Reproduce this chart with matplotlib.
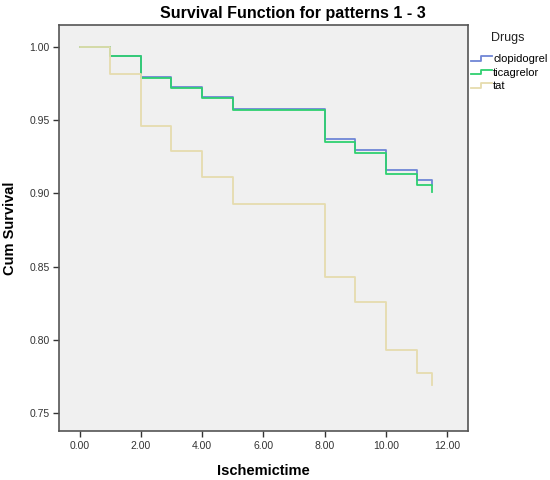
import numpy as np
import matplotlib
matplotlib.use("Agg")
from matplotlib import pyplot as plt
from matplotlib.lines import Line2D
from matplotlib.legend_handler import HandlerBase

plt.rcParams['font.family'] = ['Liberation Sans', 'DejaVu Sans']

# step times (Ischemictime) and cumulative survival per drug
times = [0, 1, 2, 3, 4, 5, 8, 9, 10, 11, 11.5]
clopidogrel = [1.000, 0.994, 0.980, 0.973, 0.966, 0.958, 0.9375, 0.930, 0.916, 0.909, 0.906]
ticagrelor = [1.000, 0.994, 0.979, 0.972, 0.965, 0.957, 0.935, 0.928, 0.913, 0.906, 0.901]
tat = [1.000, 0.982, 0.946, 0.929, 0.9115, 0.893, 0.843, 0.826, 0.793, 0.777, 0.769]

labels = ['clopidogrel', 'ticagrelor', 'tat']
colors = ['#6f86d6', '#2fd070', '#e6dcae']
series = [clopidogrel, ticagrelor, tat]

xticks = [0, 2, 4, 6, 8, 10, 12]
yticks = [0.75, 0.80, 0.85, 0.90, 0.95, 1.00]


class StepHandler(HandlerBase):
    # little "_|‾" glyph like SPSS uses in its legend
    def create_artists(self, legend, orig_handle, xdescent, ydescent,
                       width, height, fontsize, trans):
        x0 = -xdescent
        xm = x0 + width * 0.5
        x1 = x0 + width
        ylo = -ydescent + height * 0.15
        yhi = -ydescent + height * 0.75
        ln = Line2D([x0, xm, xm, x1], [ylo, ylo, yhi, yhi],
                    color=orig_handle.get_color(), lw=1.3, transform=trans)
        return [ln]


fig = plt.figure(figsize=(5.5, 4.8), dpi=100)
fig.patch.set_facecolor('white')
ax = fig.add_axes([0.1078, 0.1015, 0.7432, 0.8465])
ax.set_facecolor('#f0f0f0')

handles = []
for s, c, lab in zip(series, colors, labels):
    ln, = ax.step(times, s, where='post', color=c, lw=1.3, label=lab)
    handles.append(ln)

ax.set_xlim(-0.66, 12.68)
ax.set_ylim(0.7373, 1.0153)
ax.set_xticks(xticks)
ax.set_xticklabels(['%.2f' % v for v in xticks])
ax.set_yticks(yticks)
ax.set_yticklabels(['%.2f' % v for v in yticks])
ax.tick_params(axis='both', labelsize=7.5, length=4, width=1, color='#333333',
               labelcolor='#333333', direction='out', pad=3)
for sp in ax.spines.values():
    sp.set_color('#555555')
    sp.set_linewidth(1.2)

ax.set_xlabel('Ischemictime', fontsize=10.5, fontweight='bold', labelpad=9)
ax.set_ylabel('Cum Survival', fontsize=10.5, fontweight='bold', labelpad=9)
fig.text(0.533, 0.971, 'Survival Function for patterns 1 - 3', ha='center',
         va='center', fontsize=11.5, fontweight='bold')

# legend title sits apart from the entries, as in SPSS output
fig.text(0.924, 0.921, 'Drugs', ha='center', va='center', fontsize=9,
         color='#222222')
leg = fig.legend(handles=handles, labels=labels,
                 loc='upper left', bbox_to_anchor=(0.856, 0.887),
                 frameon=False, fontsize=8,
                 handlelength=1.9, handletextpad=0.1, labelspacing=0.3,
                 borderaxespad=0, borderpad=0.0,
                 handler_map={Line2D: StepHandler()})

fig.savefig('out.png', dpi=100)
